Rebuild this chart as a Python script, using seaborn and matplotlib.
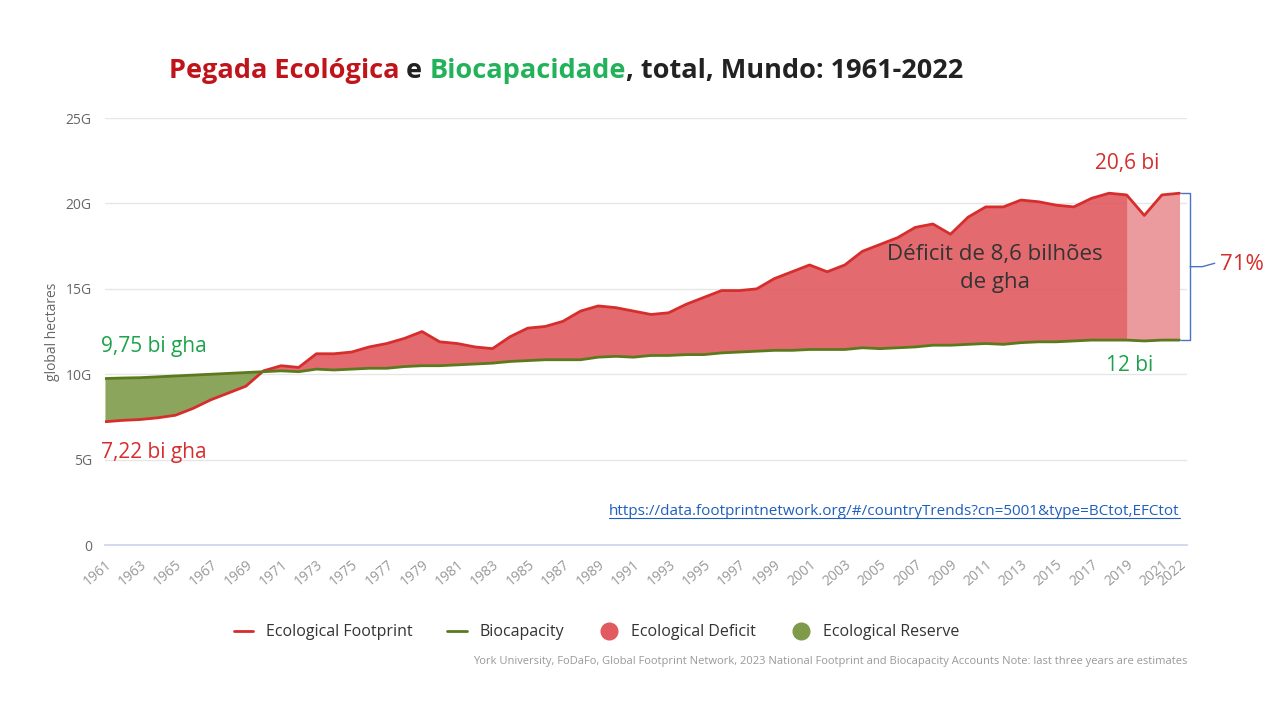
import matplotlib
matplotlib.use("Agg")
import matplotlib.pyplot as plt
import seaborn as sns
import numpy as np
import pandas as pd

years = list(range(1961, 2023))
footprint = [7.22,7.3,7.35,7.45,7.6,8.0,8.5,8.9,9.3,10.2,10.5,10.4,11.2,11.2,11.3,11.6,11.8,12.1,12.5,11.9,
             11.8,11.6,11.5,12.2,12.7,12.8,13.1,13.7,14.0,13.9,13.7,13.5,13.6,14.1,14.5,14.9,14.9,15.0,15.6,16.0,
             16.4,16.0,16.4,17.2,17.6,18.0,18.6,18.8,18.2,19.2,19.8,19.8,20.2,20.1,19.9,19.8,20.3,20.6,20.5,19.3,
             20.5,20.6]
biocap = [9.75,9.78,9.8,9.85,9.9,9.95,10.0,10.05,10.1,10.15,10.2,10.15,10.3,10.25,10.3,10.35,10.35,10.45,10.5,10.5,
          10.55,10.6,10.65,10.75,10.8,10.85,10.85,10.85,11.0,11.05,11.0,11.1,11.1,11.15,11.15,11.25,11.3,11.35,11.4,11.4,
          11.45,11.45,11.45,11.55,11.5,11.55,11.6,11.7,11.7,11.75,11.8,11.75,11.85,11.9,11.9,11.95,12.0,12.0,12.0,11.95,
          12.0,12.0]
df = pd.DataFrame({"year": years, "EF": footprint, "BC": biocap})

sns.set_theme(style="white")
plt.rcParams['font.family'] = ['Open Sans', 'DejaVu Sans']
fig = plt.figure(figsize=(12.8, 7.2), dpi=100)
ax = fig.add_axes([0.082, 0.243, 0.845, 0.593])

red = "#d62d2d"; green = "#5b7a1e"
x = df.year.values; ef = df.EF.values; bc = df.BC.values
est = x >= 2019
ax.fill_between(x, ef, bc, where=(ef >= bc) & (x <= 2019), interpolate=True, color="#e05a5f", alpha=0.9, lw=0)
ax.fill_between(x, ef, bc, where=(ef >= bc) & est, interpolate=True, color="#eb9a9d", lw=0)
ax.fill_between(x, ef, bc, where=ef < bc, interpolate=True, color="#7f9b4a", alpha=0.9, lw=0)
sns.lineplot(data=df, x="year", y="EF", ax=ax, color=red, lw=2)
sns.lineplot(data=df, x="year", y="BC", ax=ax, color=green, lw=2)

ax.set_xlim(1961, 2022.4)
ax.set_ylim(0, 25)
ax.set_yticks([0, 5, 10, 15, 20, 25])
ax.set_yticklabels(["0", "5G", "10G", "15G", "20G", "25G"], color="#666", fontsize=10)
xt = list(range(1961, 2022, 2)) + [2022]
ax.set_xticks(xt)
ax.set_xticklabels([str(v) for v in xt], rotation=40, ha="right", rotation_mode="anchor", color="#999", fontsize=10)
ax.yaxis.grid(True, color="#e6e6e6")
for s in ["top", "right", "left"]:
    ax.spines[s].set_visible(False)
ax.spines["bottom"].set_color("#ccd6eb")
ax.tick_params(axis="x", length=5, color="#ccd6eb")
ax.set_xlabel("")
ax.set_ylabel("global hectares", color="#666", fontsize=10)

ax.text(1960.8, 11.3, "9,75 bi gha", color="#1aa34a", fontsize=15)
ax.text(1960.8, 5.1, "7,22 bi gha", color=red, fontsize=15)
ax.text(2017.2, 22.0, "20,6 bi", color=red, fontsize=15)
ax.text(2017.8, 10.2, "12 bi", color="#1aa34a", fontsize=15)
ax.text(2011.5, 16.2, "Déficit de 8,6 bilhões\nde gha", color="#333", fontsize=16, ha="center", va="center", linespacing=1.4)
ax.plot([2022.1, 2022.6, 2022.6, 2022.1], [20.6, 20.6, 12.0, 12.0], color="#4a72c4", lw=1, clip_on=False)
ax.plot([2022.6, 2023.3, 2024.0], [16.3, 16.3, 16.5], color="#4a72c4", lw=1, clip_on=False)
ax.text(2024.3, 16.4, "71%", color=red, fontsize=16, va="center")
url = ax.text(2022, 1.5, "https://data.footprintnetwork.org/#/countryTrends?cn=5001&type=BCtot,EFCtot",
              color="#1f5fbf", fontsize=11, ha="right", va="bottom")

parts = [("Pegada Ecológica", "#c0141b"), (" e ", "#222"), ("Biocapacidade", "#22b25a"), (", total, Mundo: 1961-2022", "#222")]
fig.canvas.draw()
r = fig.canvas.get_renderer()
bb = url.get_window_extent(r)
fig.add_artist(plt.Line2D([bb.x0 / 1280, bb.x1 / 1280], [(bb.y0 + 1) / 720] * 2, color="#1f5fbf", lw=0.8))
xpos = 0.132
for t, c in parts:
    tx = fig.text(xpos, 0.902, t, color=c, fontsize=19.5, fontweight="bold", va="center")
    b = tx.get_window_extent(r)
    xpos += b.width / fig.bbox.width

from matplotlib.lines import Line2D
h = [Line2D([], [], color=red, lw=2), Line2D([], [], color=green, lw=2),
     Line2D([], [], marker="o", ls="", color="#e05a5f", ms=12), Line2D([], [], marker="o", ls="", color="#7f9b4a", ms=12)]
fig.legend(h, ["Ecological Footprint", "Biocapacity", "Ecological Deficit", "Ecological Reserve"],
           loc="center", bbox_to_anchor=(0.466, 0.122), ncol=4, frameon=False, fontsize=11.5,
           handlelength=1.2, columnspacing=2.2, labelcolor="#333")
fig.text(0.928, 0.078, "York University, FoDaFo, Global Footprint Network, 2023 National Footprint and Biocapacity Accounts Note: last three years are estimates",
         ha="right", fontsize=8, color="#999")
fig.savefig("out.png", dpi=100)
